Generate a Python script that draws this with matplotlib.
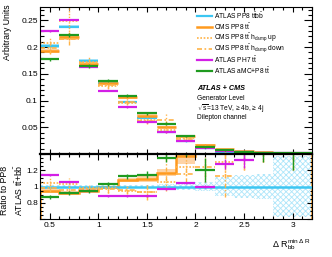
import numpy as np
import matplotlib
matplotlib.use("Agg")
import matplotlib.pyplot as plt
from matplotlib.ticker import MultipleLocator, FuncFormatter
from matplotlib.lines import Line2D

plt.rcParams['font.family'] = ['Liberation Sans', 'DejaVu Sans']
plt.rcParams['mathtext.fontset'] = 'custom'
plt.rcParams['mathtext.rm'] = 'Liberation Sans'
plt.rcParams['mathtext.it'] = 'Liberation Sans:italic'
plt.rcParams['mathtext.bf'] = 'Liberation Sans:bold'
plt.rcParams['hatch.linewidth'] = 0.6

# ---------------- data ----------------
edges = [0.4, 0.6, 0.8, 1.0, 1.2, 1.4, 1.6, 1.8, 2.0, 2.2, 2.4, 2.6, 2.8, 3.2]

atlas_pp8_ttbb = [0.202, 0.238, 0.174, 0.133, 0.098, 0.067, 0.042, 0.024, 0.011, 0.0045, 0.0025, 0.0015, 0.0008]
atlas_pp8_err  = [0.003, 0.003, 0.003, 0.002, 0.002, 0.0015, 0.001, 0.001, 0.0008, 0.0005, 0.0004, 0.0003, 0.0003]
cms_pp8        = [0.193, 0.218, 0.168, 0.132, 0.106, 0.072, 0.050, 0.033, 0.017, 0.0085, 0.005, 0.003, 0.0015]
cms_pp8_err    = [0.004, 0.004, 0.004, 0.003, 0.003, 0.003, 0.002, 0.002, 0.001, 0.001, 0.001, 0.0008, 0.0005]
cms_up         = [0.208, 0.249, 0.172, 0.127, 0.095, 0.064, 0.045, 0.030, 0.014, 0.006, 0.004, 0.0025, 0.0013]
cms_up_err     = [0.01, 0.03, 0.01, 0.01, 0.008, 0.006, 0.005, 0.004, 0.003, 0.002, 0.002, 0.001, 0.001]
cms_down       = [0.198, 0.216, 0.170, 0.130, 0.098, 0.062, 0.064, 0.028, 0.0135, 0.005, 0.004, 0.0025, 0.0013]
cms_down_err   = [0.01, 0.012, 0.008, 0.008, 0.006, 0.006, 0.01, 0.004, 0.003, 0.002, 0.002, 0.001, 0.001]
atlas_ph7      = [0.230, 0.251, 0.163, 0.118, 0.087, 0.059, 0.041, 0.025, 0.0108, 0.0057, 0.0033, 0.0024, 0.0013]
atlas_ph7_err  = [0.001, 0.001, 0.001, 0.001, 0.001, 0.001, 0.001, 0.001, 0.0005, 0.0003, 0.0003, 0.0002, 0.0002]
atlas_amc      = [0.177, 0.222, 0.165, 0.137, 0.109, 0.076, 0.057, 0.034, 0.0132, 0.0068, 0.004, 0.0025, 0.0013]
atlas_amc_err  = [0.003, 0.004, 0.004, 0.003, 0.003, 0.003, 0.002, 0.002, 0.0015, 0.001, 0.001, 0.0006, 0.0004]

# ratio to ATLAS PP8 ttbb
r_band_ttbb   = [0.015, 0.015, 0.015, 0.02, 0.02, 0.02, 0.025, 0.04, 0.05, 0.12, 0.14, 0.15, 0.37]
r_cms_pp8     = [0.95, 0.92, 0.95, 0.99, 1.08, 1.09, 1.17, 1.38, 1.55, 1.9, 2.0, 2.0, 1.9]
r_cms_pp8_err = [0.03, 0.02, 0.02, 0.02, 0.03, 0.035, 0.04, 0.1, 0.1, 0.15, 0.2, 0.2, 0.4]
r_cms_up      = [1.04, 1.03, 0.98, 0.98, 0.95, 0.93, 1.05, 1.24, 1.20, 1.30, 1.50, 1.60, 1.60]
r_cms_up_err  = [0.06, 0.07, 0.05, 0.06, 0.07, 0.1, 0.1, 0.1, 0.15, 0.2, 0.3, 0.3, 0.4]
r_cms_down    = [0.98, 0.96, 0.97, 0.97, 0.96, 0.93, 1.52, 1.15, 1.24, 1.13, 1.50, 1.60, 1.60]
r_cms_down_err= [0.05, 0.05, 0.04, 0.05, 0.05, 0.08, 0.45, 0.1, 0.12, 0.26, 0.3, 0.3, 0.4]
r_ph7         = [1.14, 1.05, 0.94, 0.88, 0.88, 0.88, 0.97, 1.04, 1.0, 1.275, 1.33, 1.6, 1.6]
r_ph7_err     = [0.005, 0.005, 0.005, 0.005, 0.005, 0.005, 0.01, 0.01, 0.02, 0.06, 0.1, 0.1, 0.2]
r_amc         = [0.87, 0.92, 0.94, 1.03, 1.125, 1.145, 1.35, 1.45, 1.2, 1.6, 1.6, 1.6, 1.6]
r_amc_err     = [0.02, 0.02, 0.025, 0.025, 0.03, 0.04, 0.05, 0.07, 0.15, 0.2, 0.2, 0.3, 0.4]

labels = [r"ATLAS PP8 t$\bar{\rm t}$b$\bar{\rm b}$",
          r"CMS PP8 t$\bar{\rm t}$",
          r"CMS PP8 t$\bar{\rm t}$ h$_{\rm damp}$ up",
          r"CMS PP8 t$\bar{\rm t}$ h$_{\rm damp}$ down",
          r"ATLAS PH7 t$\bar{\rm t}$",
          r"ATLAS aMC+P8 t$\bar{\rm t}$"]

# ---------------- style ----------------
C_CYAN = '#3cc6f2'
C_CYAN_L = '#aee6fa'
C_ORANGE = '#ff9a1e'
C_ORANGE_L = '#fdd3a6'
C_ORANGE_D = '#ffb347'
C_MAG = '#d31fe6'
C_GREEN = '#1f9a1f'
LS_DOT = (0, (1, 1))
LS_DD = (0, (3, 1.5, 1, 1.5))

e = np.array(edges)
lo, hi = e[:-1], e[1:]
cen = 0.5 * (lo + hi)
wid = hi - lo

W, H = 332, 257
fig = plt.figure(figsize=(W / 100, H / 100), dpi=100)
L, R = 40 / W, 312 / W
ax = fig.add_axes([L, 1 - 154 / H, R - L, (154 - 7) / H])
rx = fig.add_axes([L, 1 - 219 / H, R - L, (219 - 154) / H])


def cross(a, vals, errs, color, ls='-', lw=1.6, elw=1.0):
    v = np.array(vals, float)
    er = np.array(errs, float)
    a.hlines(v, lo, hi, colors=color, linestyles=ls, lw=lw)
    a.vlines(cen, v - er, v + er, colors=color, linestyles=ls, lw=elw)


def box(a, vals, errs, color):
    v = np.array(vals, float)
    er = np.array(errs, float)
    a.bar(cen, 2 * er, bottom=v - er, width=wid, color=color, lw=0)


# ---------- top panel ----------
box(ax, atlas_pp8_ttbb, atlas_pp8_err, C_CYAN_L)
box(ax, cms_pp8, cms_pp8_err, C_ORANGE_L)
cross(ax, atlas_pp8_ttbb, atlas_pp8_err, C_CYAN, lw=1.6)
cross(ax, cms_pp8, cms_pp8_err, C_ORANGE, lw=1.8)
cross(ax, cms_up, cms_up_err, C_ORANGE_D, ls=LS_DOT, lw=1.2, elw=1.0)
cross(ax, cms_down, cms_down_err, C_ORANGE_D, ls=LS_DD, lw=1.2, elw=1.0)
cross(ax, atlas_ph7, atlas_ph7_err, C_MAG, lw=1.6)
cross(ax, atlas_amc, atlas_amc_err, C_GREEN, lw=1.6)

ax.set_xlim(0.4, 3.2)
ax.set_ylim(0, 0.275)
ax.yaxis.set_major_locator(MultipleLocator(0.05))
ax.yaxis.set_minor_locator(MultipleLocator(0.01))
ax.xaxis.set_major_locator(MultipleLocator(0.5))
ax.xaxis.set_minor_locator(MultipleLocator(0.1))
ax.yaxis.set_major_formatter(FuncFormatter(lambda v, p: '' if abs(v) < 1e-9 else '%g' % v))
ax.tick_params(axis='x', which='both', labelbottom=False)
ax.tick_params(which='both', direction='in', top=True, right=True, width=0.8, labelsize=6, pad=1.5)
ax.tick_params(axis='y', which='major', length=5.5)
ax.tick_params(axis='y', which='minor', length=2.7)
ax.tick_params(axis='x', which='major', length=3.5)
ax.tick_params(axis='x', which='minor', length=1.8)

# manual legend (positions in figure pixels)
styles = [dict(color=C_CYAN, lw=1.6),
          dict(color=C_ORANGE, lw=1.8),
          dict(color=C_ORANGE_D, lw=1.2, ls=LS_DOT),
          dict(color=C_ORANGE_D, lw=1.2, ls=LS_DD),
          dict(color=C_MAG, lw=1.6),
          dict(color=C_GREEN, lw=1.6)]
for i, (lab, st) in enumerate(zip(labels, styles)):
    yy = 1 - (16 + 11 * i) / H
    fig.add_artist(Line2D([197 / W, 212 / W], [yy, yy], transform=fig.transFigure, **st))
    fig.text(214 / W, yy, lab, fontsize=4.8, va='center', ha='left')

tx = 197 / W
fig.text(tx, 1 - 89 / H, "ATLAS + CMS", fontsize=5.2, fontweight='bold', fontstyle='italic', va='center')
fig.text(tx, 1 - 99 / H, "Generator Level", fontsize=4.8, va='center')
fig.text(tx, 1 - 108.5 / H, r"$\sqrt{\rm s}$=13 TeV, ≥ 4b, ≥ 4j", fontsize=4.8, va='center')
fig.text(tx, 1 - 118 / H, "Dilepton channel", fontsize=4.8, va='center')

fig.text(8 / W, 1 - 4 / H, "Arbitrary Units", rotation=90, ha='center', va='top', fontsize=6.3)

# ---------- ratio panel ----------
band = np.array(r_band_ttbb)
rx.stairs(1 + band, e, baseline=1 - band, fill=True, facecolor='none',
          edgecolor=C_CYAN_L, hatch='xxxxxx', lw=0)
rcp = np.array(r_cms_pp8)
rce = np.array(r_cms_pp8_err)
rx.stairs(rcp + rce, e, baseline=rcp - rce, fill=True, color=C_ORANGE_L, lw=0)
rx.hlines(1.0, 0.4, 3.2, colors=C_CYAN, lw=1.8)
rx.stairs(rcp, e, baseline=0, color=C_ORANGE, lw=1.8)
cross(rx, r_cms_up, r_cms_up_err, C_ORANGE_D, ls=LS_DOT, lw=1.2, elw=1.0)
cross(rx, r_cms_down, r_cms_down_err, C_ORANGE_D, ls=LS_DD, lw=1.2, elw=1.0)
cross(rx, r_ph7, r_ph7_err, C_MAG, lw=1.6)
cross(rx, r_amc, r_amc_err, C_GREEN, lw=1.6)

rx.set_xlim(0.4, 3.2)
rx.set_ylim(0.6, 1.4)
rx.xaxis.set_major_locator(MultipleLocator(0.5))
rx.xaxis.set_minor_locator(MultipleLocator(0.1))
rx.yaxis.set_major_locator(MultipleLocator(0.2))
rx.yaxis.set_minor_locator(MultipleLocator(0.05))
rx.yaxis.set_major_formatter(FuncFormatter(lambda v, p: '' if (v < 0.7 or v > 1.3) else '%g' % round(v, 2)))
rx.xaxis.set_major_formatter(FuncFormatter(lambda v, p: '%g' % v))
rx.tick_params(which='both', direction='in', top=True, right=True, width=0.8, labelsize=6, pad=1.5)
rx.tick_params(axis='y', which='major', length=3.5)
rx.tick_params(axis='y', which='minor', length=1.8)
rx.tick_params(axis='x', which='major', length=4)
rx.tick_params(axis='x', which='minor', length=2)
rx.tick_params(axis='x', pad=2)
rx.spines['top'].set_linewidth(1.6)

fig.text(12.5 / W, 1 - 190 / H, "Ratio to PP8\n" + r"ATLAS t$\bar{\rm t}$+b$\bar{\rm b}$",
         rotation=90, ha='center', va='center', fontsize=6.3, linespacing=1.3)

fig.text(311 / W, 1 - 245 / H, r"$\Delta$ R$_{\rm bb}^{\rm min\ \Delta\ R}$", ha='right', va='center', fontsize=6.5)

fig.savefig("out.png", dpi=100)
